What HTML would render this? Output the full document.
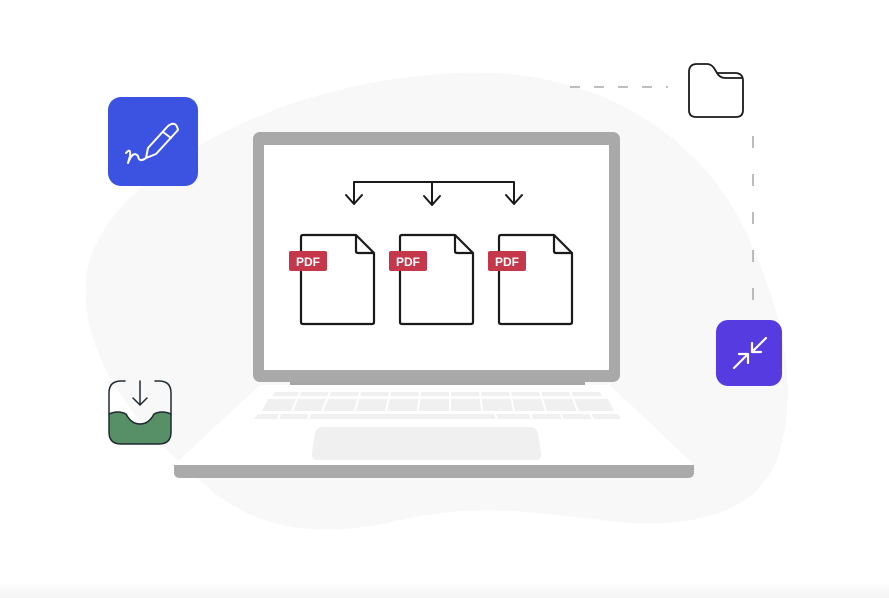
<!DOCTYPE html>
<html><head><meta charset="utf-8"><style>
html,body{margin:0;padding:0;background:#fff;}
svg{display:block;}
</style></head><body>
<svg width="889" height="598" viewBox="0 0 889 598" xmlns="http://www.w3.org/2000/svg">
<defs><linearGradient id="bt" x1="0" y1="0" x2="0" y2="1"><stop offset="0" stop-color="#fff"/><stop offset="1" stop-color="#f4f4f4"/></linearGradient></defs>
<rect x="0" y="582" width="889" height="16" fill="url(#bt)"/>
<!-- blob -->
<path d="M430 75 C 560 60, 680 110, 740 220 C 780 300, 800 380, 780 450 C 760 520, 680 530, 600 520 C 520 510, 470 505, 400 520 C 320 540, 250 530, 200 480 C 140 430, 80 360, 86 280 C 92 190, 250 90, 430 75 Z" fill="#f8f8f8"/>
<!-- dashed connectors -->
<line x1="570" y1="87" x2="668" y2="87" stroke="#999" stroke-width="1.3" stroke-dasharray="10,14"/>
<line x1="753" y1="136" x2="753" y2="300" stroke="#999" stroke-width="1.3" stroke-dasharray="12,26"/>
<!-- laptop base -->
<path d="M260 385 L610 385 L694 465 L174 465 Z" fill="#fff"/>
<path d="M174 465 L694 465 L694 472 Q694 478 688 478 L180 478 Q174 478 174 472 Z" fill="#aaaaaa"/>
<g fill="#f0f0f0">
<path d="M275 392 L600 392 L602 396 L272 396 Z"/>
<path d="M268 399 L608 399 L614 411 L262 411 Z"/>
<path d="M258 414 L618 414 L621 419 L254 419 Z"/>
</g>
<g stroke="#fff" stroke-width="2">
<line x1="300" y1="392" x2="292" y2="411"/><line x1="330" y1="392" x2="322" y2="411"/><line x1="360" y1="392" x2="355" y2="411"/>
<line x1="390" y1="392" x2="386" y2="411"/><line x1="420" y1="392" x2="418" y2="411"/><line x1="450" y1="392" x2="450" y2="411"/>
<line x1="480" y1="392" x2="482" y2="411"/><line x1="510" y1="392" x2="514" y2="411"/><line x1="540" y1="392" x2="546" y2="411"/><line x1="570" y1="392" x2="578" y2="411"/>
<line x1="280" y1="414" x2="278" y2="419"/><line x1="310" y1="414" x2="308" y2="419"/><line x1="495" y1="414" x2="497" y2="419"/><line x1="530" y1="414" x2="532" y2="419"/><line x1="560" y1="414" x2="563" y2="419"/><line x1="590" y1="414" x2="593" y2="419"/>
</g>
<path d="M322 427 L530 427 Q536 427 538 433 L541 453 Q542 460 535 460 L318 460 Q311 460 312 453 L315 433 Q317 427 322 427 Z" fill="#f0f0f0"/>
<!-- screen -->
<rect x="290" y="380" width="295" height="5" fill="#a6a6a6"/>
<rect x="253" y="132" width="367" height="250" rx="7" fill="#a9a9a9"/>
<rect x="264" y="145" width="345" height="225" fill="#fff"/>
<!-- arrows -->
<g fill="none" stroke="#1a1a1a" stroke-width="2" stroke-linecap="round" stroke-linejoin="round">
<path d="M354 203 V182 H514 V203"/><path d="M432 182 V204"/>
<path d="M346 195 L354 204 L362 195"/><path d="M424 196 L432 205 L440 196"/><path d="M506 195 L514 204 L522 195"/>
</g>
<!-- docs -->
<g fill="#fff" stroke="#1a1a1a" stroke-width="2.2" stroke-linejoin="round">
<path d="M303 235 H356 L374 253 V322 Q374 324 372 324 H303 Q301 324 301 322 V237 Q301 235 303 235 Z"/><path d="M356 235 V251 Q356 253 358 253 H374" fill="none"/>
<path d="M402 235 H455 L473 253 V322 Q473 324 471 324 H402 Q400 324 400 322 V237 Q400 235 402 235 Z"/><path d="M455 235 V251 Q455 253 457 253 H473" fill="none"/>
<path d="M501 235 H554 L572 253 V322 Q572 324 570 324 H501 Q499 324 499 322 V237 Q499 235 501 235 Z"/><path d="M554 235 V251 Q554 253 556 253 H572" fill="none"/>
</g>
<g font-family="Liberation Sans, sans-serif" font-size="12" font-weight="bold" fill="#fff" text-anchor="middle">
<rect x="289" y="251" width="38" height="20" rx="2" fill="#c5384c"/><text x="308" y="266">PDF</text>
<rect x="389" y="251" width="38" height="20" rx="2" fill="#c5384c"/><text x="408" y="266">PDF</text>
<rect x="488" y="251" width="38" height="20" rx="2" fill="#c5384c"/><text x="507" y="266">PDF</text>
</g>
<!-- pen icon -->
<rect x="108" y="97" width="90" height="89" rx="13" fill="#3c52e0"/>
<g fill="none" stroke="#fff" stroke-width="2" stroke-linecap="round" stroke-linejoin="round">
<path d="M168 126 Q176 120 178 130 L156 154 L146 158 L148 148 Z"/><path d="M163 132 L171 138"/>
<path d="M126 153 Q131 147 130 156 L128 163 Q133 150 138 156 Q139 163 146 158"/>
</g>
<!-- download icon -->
<path d="M109 414 Q118 410 126 414 Q131 424 140 424 Q149 424 154 414 Q162 410 171 414 V433 Q171 444 160 444 H120 Q109 444 109 433 Z" fill="#578f66"/>
<g fill="none" stroke="#1f2a30" stroke-width="1.5" stroke-linecap="round" stroke-linejoin="round">
<path d="M125 381 H121 Q109 381 109 393 V432 Q109 444 121 444 H159 Q171 444 171 432 V393 Q171 381 159 381 H155"/>
<path d="M109 414 Q118 410 126 414 Q131 424 140 424 Q149 424 154 414 Q162 410 171 414"/>
<path d="M140 381 V405 M133 398 L140 405 L147 398"/>
</g>
<!-- folder -->
<g fill="none" stroke="#1a1a1a" stroke-width="1.8" stroke-linejoin="round">
<path d="M697 64 H707 Q711 64 714 68 L717 73 H735 Q743 73 743 81 V110 Q743 117 736 117 H696 Q689 117 689 110 V72 Q689 64 697 64 Z"/>
<path d="M717 73 Q720 78 725 78 H742"/>
</g>
<!-- compress icon -->
<rect x="716" y="320" width="66" height="66" rx="12" fill="#553be0"/>
<g fill="none" stroke="#fff" stroke-width="2.2" stroke-linecap="round" stroke-linejoin="round">
<path d="M766 338 L752 352 M752 343 V352 H761"/>
<path d="M734 368 L748 354 M739 354 H748 V363"/>
</g>
</svg>
</body></html>
